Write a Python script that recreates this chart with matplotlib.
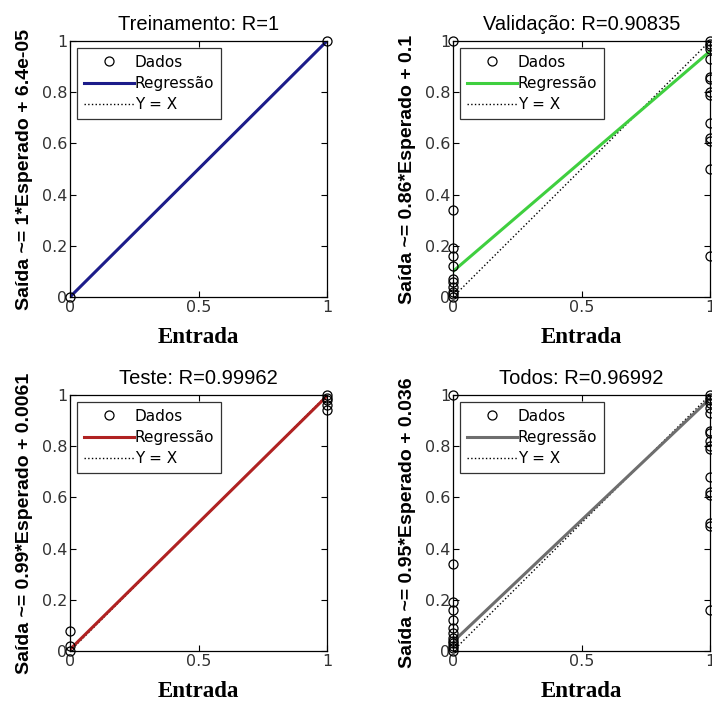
import numpy as np
import matplotlib
matplotlib.use("Agg")
import matplotlib.pyplot as plt

# regression plots (target vs network output), one panel per data split
titles = ["Treinamento: R=1", "Validação: R=0.90835", "Teste: R=0.99962", "Todos: R=0.96992"]
ylabels = ["Saída ~= 1*Esperado + 6.4e-05", "Saída ~= 0.86*Esperado + 0.1",
           "Saída ~= 0.99*Esperado + 0.0061", "Saída ~= 0.95*Esperado + 0.036"]
slopes = [1.0, 0.86, 0.99, 0.95]
offsets = [6.4e-05, 0.1, 0.0061, 0.036]
colors = ["#1c1c8a", "#3fcf3f", "#b02222", "#6e6e6e"]

train_t0 = [0.0]
train_t1 = [1.0]
val_t0 = [1.0, 0.34, 0.19, 0.16, 0.12, 0.07, 0.06, 0.04, 0.02, 0.01, 0.0]
val_t1 = [1.0, 0.99, 0.98, 0.97, 0.93, 0.86, 0.85, 0.80, 0.79, 0.68, 0.62, 0.61, 0.50, 0.16]
test_t0 = [0.08, 0.02, 0.0]
test_t1 = [1.0, 0.99, 0.98, 0.96, 0.94]
all_t0 = [1.0, 0.34, 0.19, 0.16, 0.12, 0.09, 0.07, 0.05, 0.04, 0.03, 0.02, 0.01, 0.0]
all_t1 = [1.0, 0.99, 0.98, 0.97, 0.95, 0.93, 0.86, 0.85, 0.82, 0.80, 0.79, 0.68,
          0.62, 0.61, 0.50, 0.49, 0.16]
outs0 = [train_t0, val_t0, test_t0, all_t0]
outs1 = [train_t1, val_t1, test_t1, all_t1]

W, H = 712, 704
fig = plt.figure(figsize=(W / 100, H / 100), dpi=100)
boxes = [(70, 41), (453, 41), (70, 395), (453, 395)]   # left, top in px
aw, ah = 257, 256

for i in range(4):
    l, t = boxes[i]
    ax = fig.add_axes([l / W, 1 - (t + ah) / H, aw / W, ah / H])
    x = [0.0] * len(outs0[i]) + [1.0] * len(outs1[i])
    y = outs0[i] + outs1[i]
    ax.plot(x, y, "o", ms=6.5, mfc="none", mec="black", mew=0.9, clip_on=False,
            zorder=3, label="Dados")
    xx = np.array([0.0, 1.0])
    ax.plot(xx, slopes[i] * xx + offsets[i], "-", color=colors[i], lw=2.2,
            zorder=2, label="Regressão")
    ax.plot(xx, xx, ":", color="black", lw=1.0, zorder=1, label="Y = X")
    ax.set_xlim(0, 1); ax.set_ylim(0, 1)
    ax.set_xticks([0, 0.5, 1]); ax.set_xticklabels(["0", "0.5", "1"])
    ax.set_yticks([0, 0.2, 0.4, 0.6, 0.8, 1])
    ax.set_yticklabels(["0", "0.2", "0.4", "0.6", "0.8", "1"])
    ax.tick_params(direction="in", length=4, width=0.8, top=True, right=True,
                   labelsize=11.5, labelcolor="#333333", pad=2)
    for s in ax.spines.values():
        s.set_linewidth(0.9)
    ax.set_title(titles[i], fontsize=14.5, pad=8, family="Liberation Sans")
    ax.set_xlabel("Entrada", fontsize=16.5, fontweight="bold", family="Liberation Serif",
                  labelpad=9)
    ax.set_ylabel(ylabels[i], fontsize=14, fontweight="bold", family="Liberation Sans",
                  labelpad=6)
    leg = ax.legend(loc="upper left", fontsize=11, frameon=True, fancybox=False,
                    edgecolor="black", borderaxespad=0.45, handlelength=3.3,
                    borderpad=0.45, labelspacing=0.4, handletextpad=0.05)
    leg.get_frame().set_linewidth(0.9)

fig.savefig("out.png", dpi=100)
